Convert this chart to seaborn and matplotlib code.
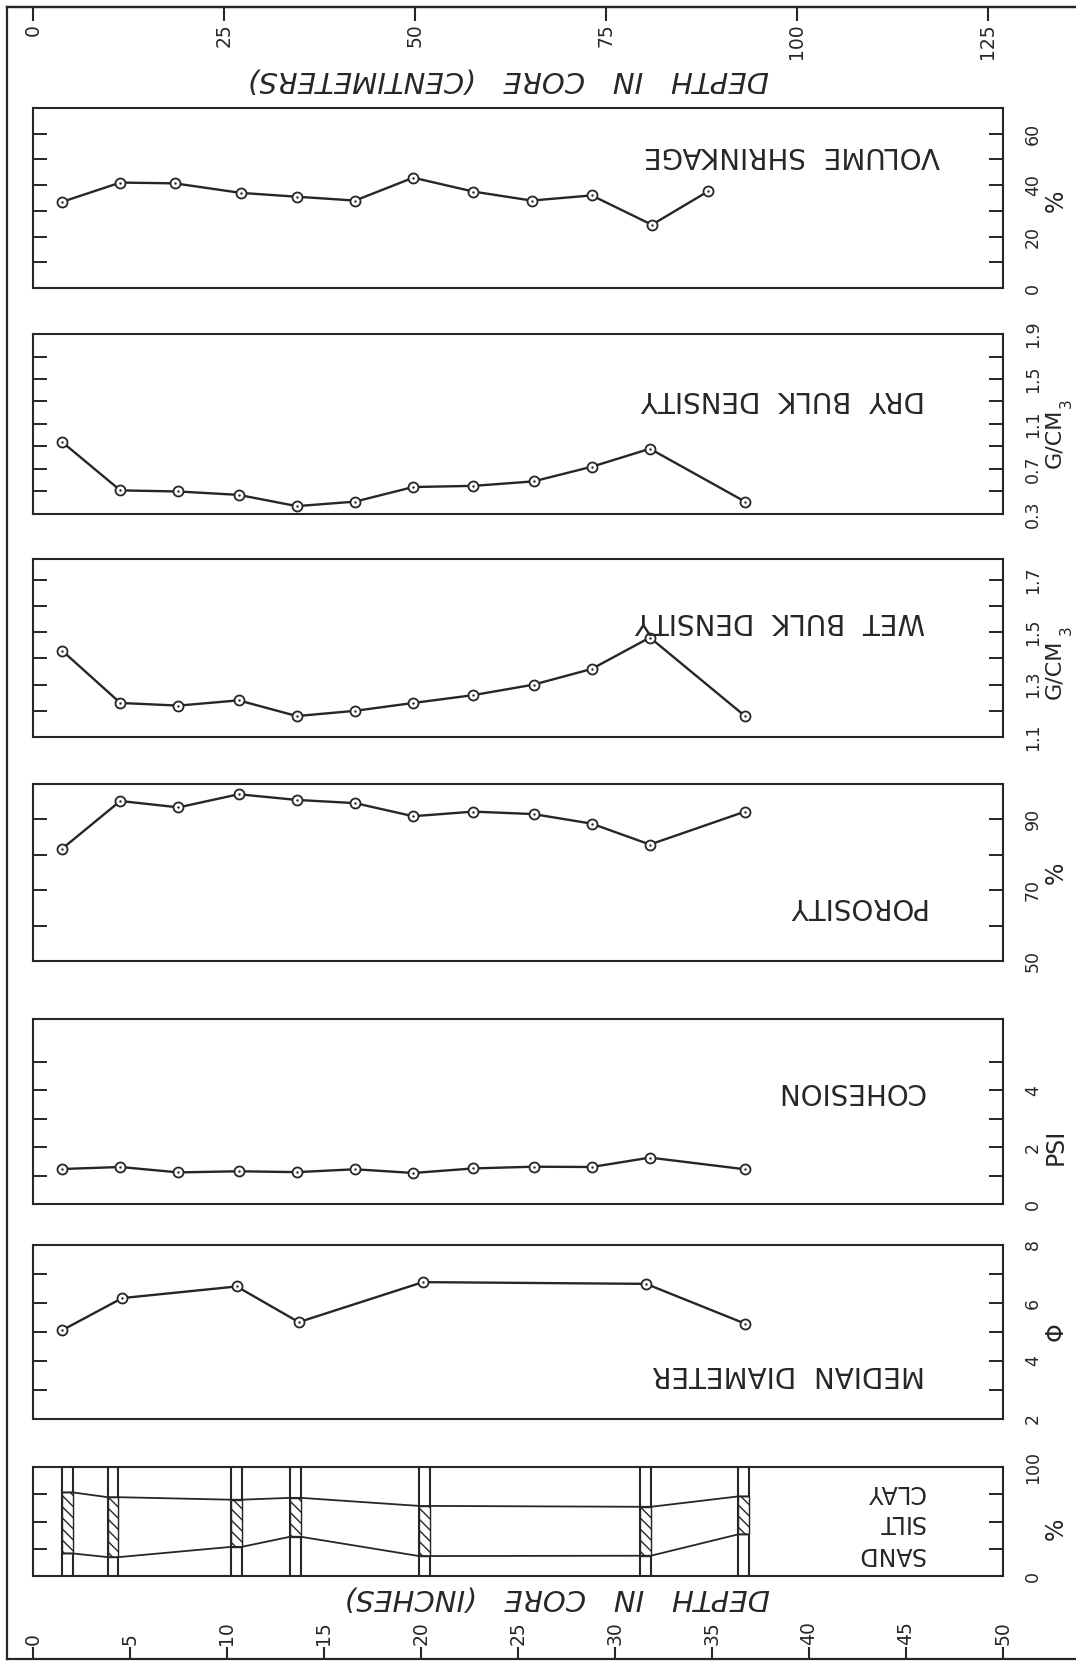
import numpy as np
import pandas as pd
import matplotlib
matplotlib.use("Agg")
import matplotlib.pyplot as plt
import matplotlib.transforms as mtransforms
from matplotlib.ticker import FixedLocator, NullLocator
import seaborn as sns

# ---------------- data ----------------
# depth of each physical-property sample, inches below the core top
sample_depth_in = [1.5, 4.5, 7.5, 10.6, 13.6, 16.6, 19.6, 22.7, 25.8, 28.8, 31.8, 36.7]
shrinkage_depth_in = [1.5, 4.5, 7.3, 10.7, 13.6, 16.6, 19.6, 22.7, 25.7, 28.8, 31.9, 34.8]

volume_shrinkage_pct = [33.5, 41.0, 40.7, 37.0, 35.5, 34.0, 42.9, 37.5, 34.0, 36.0, 24.6, 37.6]
dry_bulk_density = [0.94, 0.51, 0.50, 0.47, 0.37, 0.41, 0.54, 0.55, 0.59, 0.72, 0.88, 0.41]
wet_bulk_density = [1.43, 1.23, 1.22, 1.24, 1.18, 1.20, 1.23, 1.26, 1.30, 1.36, 1.48, 1.18]
porosity_pct = [81.7, 95.2, 93.4, 97.1, 95.5, 94.6, 90.9, 92.2, 91.5, 88.8, 82.9, 92.2]
cohesion_psi = [1.23, 1.30, 1.11, 1.15, 1.12, 1.22, 1.09, 1.25, 1.31, 1.30, 1.63, 1.22]

median_depth_in = [1.5, 4.6, 10.5, 13.7, 20.1, 31.6, 36.7]
median_diameter_phi = [5.06, 6.17, 6.57, 5.34, 6.72, 6.66, 5.29]

# grain-size samples: depth interval and cumulative percentages
grain_top_in = [1.5, 3.85, 10.2, 13.25, 19.9, 31.3, 36.35]
grain_base_in = [2.05, 4.4, 10.75, 13.8, 20.45, 31.85, 36.9]
sand_pct = [20.7, 17.3, 26.7, 36.0, 18.3, 18.6, 38.2]
sand_silt_pct = [76.7, 72.3, 70.0, 71.7, 64.3, 63.5, 73.0]

# depth scales
CM_PER_IN = 2.54
depth_ticks_cm = [0, 25, 50, 75, 100, 125]
depth_ticks_in = [0, 5, 10, 15, 20, 25, 30, 35, 40, 45, 50]

# value scales: labelled values and tick marks
shrink_labels, shrink_marks = [0, 20, 40, 60], [10, 20, 30, 40, 50, 60]
dry_labels, dry_marks = [0.3, 0.7, 1.1, 1.5, 1.9], [0.5, 0.7, 0.9, 1.1, 1.3, 1.5, 1.7]
wet_labels, wet_marks = [1.1, 1.3, 1.5, 1.7], [1.2, 1.3, 1.4, 1.5, 1.6, 1.7]
poro_labels, poro_marks = [50, 70, 90], [60, 70, 80, 90]
coh_labels, coh_marks = [0, 2, 4], [1, 2, 3, 4, 5]
md_labels, md_marks = [2, 4, 6, 8], [3, 4, 5, 6, 7]
grain_labels, grain_marks = [0, 100], [25, 50, 75]

# ---------------- page setup ----------------
sns.set_theme(style="white")
plt.rcParams["font.family"] = ["DejaVu Sans"]
plt.rcParams["hatch.linewidth"] = 1.0
INK = "#262626"
plt.rcParams["hatch.color"] = INK

W, H, DPI = 1076, 1661, 100
fig = plt.figure(figsize=(W / DPI, H / DPI), dpi=DPI)
fig.patch.set_facecolor("white")

X0, PX_PER_IN = 33.0, 19.4          # pixel column of depth 0 and pixels per inch
PANEL_L, PANEL_R = X0, X0 + 50 * PX_PER_IN


def px_box(left, top, right, bottom):
    return [left / W, 1 - bottom / H, (right - left) / W, (bottom - top) / H]


# ---------------- outer frame with depth scales ----------------
frame = fig.add_axes(px_box(7, 7, W, 1659))
frame.set_xlim((7 - X0) / PX_PER_IN, (W - X0) / PX_PER_IN)
frame.set_ylim(0, 1)
frame.set_facecolor("none")
frame.spines["right"].set_visible(False)
for s in ("left", "top", "bottom"):
    frame.spines[s].set_color(INK)
    frame.spines[s].set_linewidth(1.6)
frame.set_yticks([])
frame.set_xticks(depth_ticks_in)
frame.tick_params(axis="x", bottom=True, top=False, direction="in", length=9,
                  width=1.5, color=INK, labelbottom=False)
sec = frame.secondary_xaxis("top", functions=(lambda x: x * CM_PER_IN,
                                              lambda x: x / CM_PER_IN))
sec.set_xticks(depth_ticks_cm)
sec.tick_params(direction="in", length=10, width=1.5, color=INK, labeltop=False)
sec.spines["top"].set_linewidth(1.6)
sec.spines["top"].set_color(INK)

edge_x = mtransforms.blended_transform_factory(frame.transData, frame.transAxes)
top_lbl = mtransforms.offset_copy(edge_x, fig=fig, y=-12, units="points")
bot_lbl = mtransforms.offset_copy(edge_x, fig=fig, y=10, units="points")
for cm in depth_ticks_cm:
    frame.text(cm / CM_PER_IN, 1, f"{cm}", transform=top_lbl, rotation=90,
               ha="center", va="top", fontsize=13.5, color=INK)
for d in depth_ticks_in:
    frame.text(d, 0, f"{d}", transform=bot_lbl, rotation=90,
               ha="center", va="bottom", fontsize=13.5, color=INK)

fig.text(508 / W, 1 - 80 / H, "DEPTH   IN   CORE   (CENTIMETERS)", rotation=180,
         ha="center", va="center", fontsize=21, style="italic", color=INK)
fig.text(557 / W, 1 - 1598 / H, "DEPTH   IN   CORE   (INCHES)", rotation=180,
         ha="center", va="center", fontsize=21, style="italic", color=INK)


# ---------------- property panels ----------------
def make_panel(top_px, bottom_px):
    ax = fig.add_axes(px_box(PANEL_L, top_px, PANEL_R, bottom_px))
    ax.set_facecolor("none")
    return ax


def style_panel(ax, ylim, labels, marks):
    ax.set_xlim(0, 50)
    ax.set_ylim(*ylim)
    ax.set_xlabel("")
    ax.set_ylabel("")
    for s in ax.spines.values():
        s.set_visible(True)
        s.set_color(INK)
        s.set_linewidth(1.5)
    ax.xaxis.set_major_locator(NullLocator())
    ax.yaxis.remove_overlapping_locs = False
    ax.yaxis.set_major_locator(FixedLocator(labels))
    ax.yaxis.set_minor_locator(FixedLocator(marks))
    ax.set_yticklabels([f"{v:g}" for v in labels], rotation=90, va="center")
    ax.tick_params(axis="y", which="major", left=False, right=False,
                   labelleft=False, labelright=True, pad=9, labelsize=12.5,
                   labelcolor=INK)
    ax.tick_params(axis="y", which="minor", left=True, right=True,
                   direction="in", length=10, width=1.4, color=INK)


def profile(ax, depth, values):
    df = pd.DataFrame({"depth": depth, "value": values})
    sns.lineplot(data=df, x="depth", y="value", ax=ax, color=INK, linewidth=1.7,
                 marker="o", markersize=7.2, markerfacecolor="white",
                 markeredgecolor=INK, markeredgewidth=1.3, estimator=None,
                 sort=False, zorder=3)
    sns.scatterplot(data=df, x="depth", y="value", ax=ax, color=INK, s=3,
                    linewidth=0, zorder=4, legend=False)


def title(ax, text, xfrac, yfrac, size=20):
    ax.text(xfrac, yfrac, text, transform=ax.transAxes, rotation=180,
            ha="right", va="center", fontsize=size, color=INK)


def unit(ax, text, value, xpx=1056, size=17):
    tr = mtransforms.blended_transform_factory(fig.transFigure, ax.transData)
    ax.text(xpx / W, value, text, transform=tr, rotation=90, ha="center",
            va="center", fontsize=size, color=INK)


TITLE_X = (925 - PANEL_L) / (PANEL_R - PANEL_L)

# volume shrinkage
ax = make_panel(108, 288)
profile(ax, shrinkage_depth_in, volume_shrinkage_pct)
style_panel(ax, (0, 70), shrink_labels, shrink_marks)
title(ax, "VOLUME  SHRINKAGE", (940 - PANEL_L) / (PANEL_R - PANEL_L), 0.74)
unit(ax, "%", 34)

# dry bulk density
ax = make_panel(334, 514)
profile(ax, sample_depth_in, dry_bulk_density)
style_panel(ax, (0.3, 1.9), dry_labels, dry_marks)
title(ax, "DRY  BULK  DENSITY", TITLE_X, 0.64)
unit(ax, "G/CM", 0.97, xpx=1054, size=16)
unit(ax, "3", 1.29, xpx=1066, size=11)

# wet bulk density
ax = make_panel(559, 737)
profile(ax, sample_depth_in, wet_bulk_density)
style_panel(ax, (1.1, 1.78), wet_labels, wet_marks)
title(ax, "WET  BULK  DENSITY", TITLE_X, 0.65)
unit(ax, "G/CM", 1.36, xpx=1054, size=16)
unit(ax, "3", 1.51, xpx=1066, size=11)

# porosity
ax = make_panel(784, 961)
profile(ax, sample_depth_in, porosity_pct)
style_panel(ax, (50, 100), poro_labels, poro_marks)
title(ax, "POROSITY", TITLE_X, 0.31)
unit(ax, "%", 75)

# cohesion
ax = make_panel(1019, 1204)
profile(ax, sample_depth_in, cohesion_psi)
style_panel(ax, (0, 6.5), coh_labels, coh_marks)
title(ax, "COHESION", TITLE_X, 0.61)
unit(ax, "PSI", 2.0)

# median diameter
ax = make_panel(1245, 1419)
profile(ax, median_depth_in, median_diameter_phi)
style_panel(ax, (2, 8), md_labels, md_marks)
title(ax, "MEDIAN  DIAMETER", TITLE_X, 0.26)
unit(ax, "\u03a6", 5.0)

# grain size: sand / silt / clay
ax = make_panel(1467, 1576)
top_arr, base_arr = np.array(grain_top_in), np.array(grain_base_in)
ax.vlines(np.concatenate([top_arr, base_arr]), 0, 100, colors=INK, linewidth=1.5)
ax.bar(top_arr, np.subtract(sand_silt_pct, sand_pct), bottom=sand_pct,
       width=base_arr - top_arr, align="edge", facecolor="white", edgecolor=INK,
       hatch="\\\\\\", linewidth=1.0, zorder=2)
edges = np.column_stack([top_arr, base_arr]).ravel()
for pct in (sand_pct, sand_silt_pct):
    df = pd.DataFrame({"depth": edges, "value": np.repeat(pct, 2)})
    sns.lineplot(data=df, x="depth", y="value", ax=ax, color=INK, linewidth=1.3,
                 estimator=None, sort=False, zorder=3)
style_panel(ax, (0, 100), grain_labels, grain_marks)
for word, yf in (("CLAY", 0.77), ("SILT", 0.493), ("SAND", 0.206)):
    title(ax, word, TITLE_X, yf, size=17)
unit(ax, "%", 43)

fig.savefig("out.png", dpi=DPI, facecolor="white")
